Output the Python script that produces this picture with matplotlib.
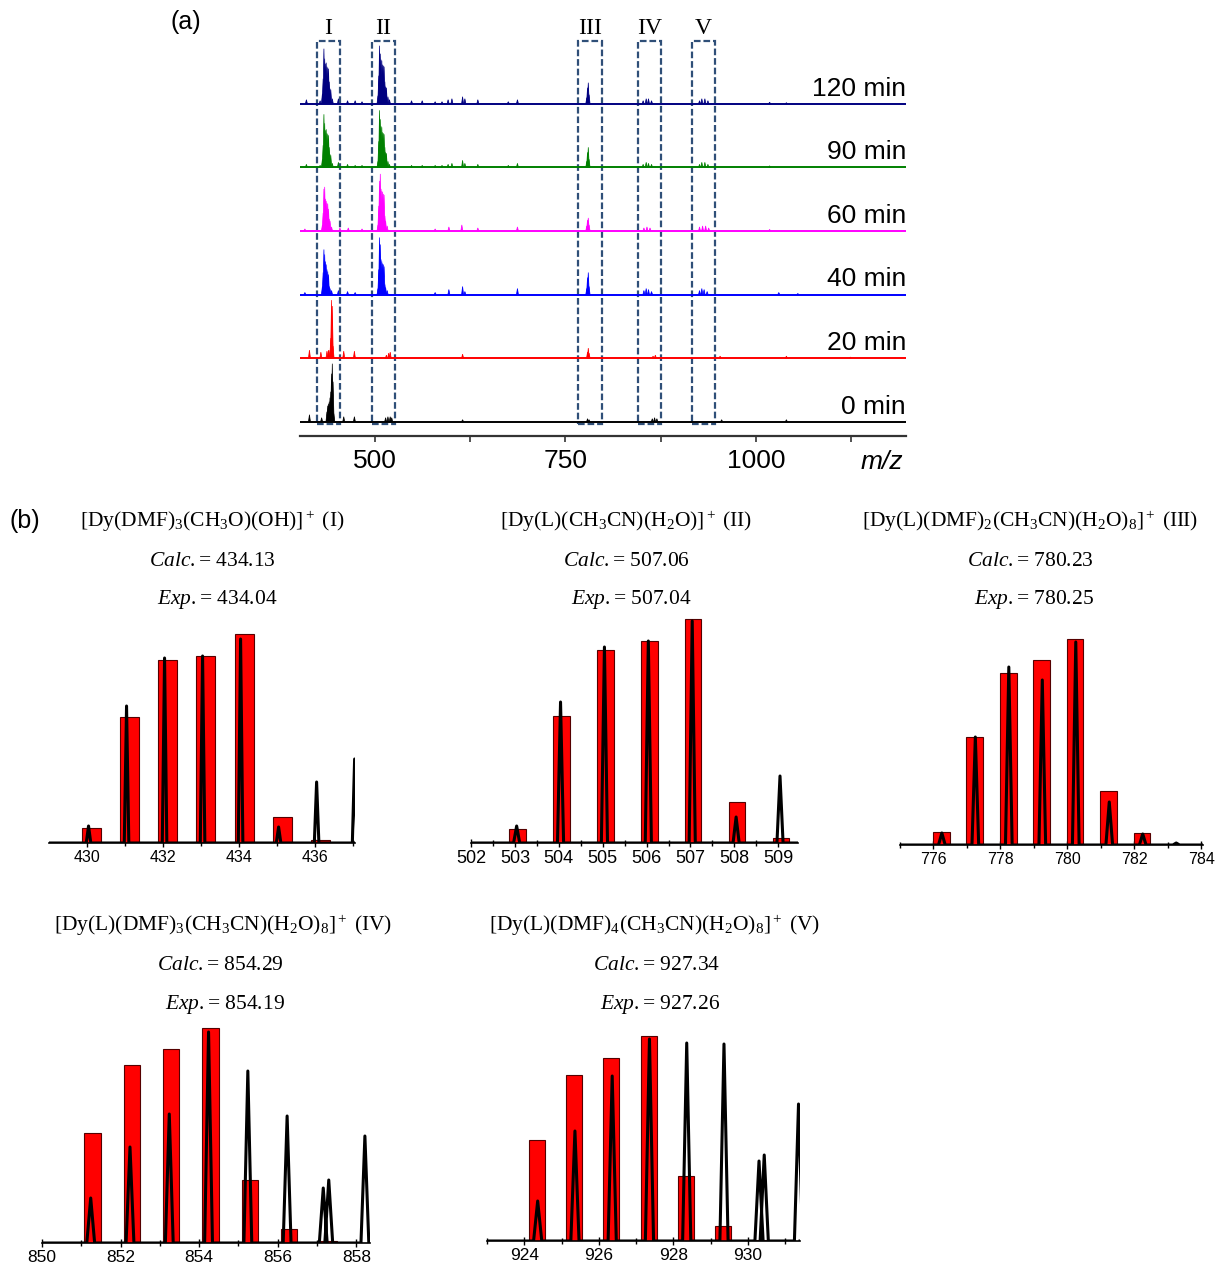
import matplotlib.pyplot as plt
from matplotlib.patches import Rectangle

plt.rcParams['font.family'] = 'Liberation Sans'
plt.rcParams['mathtext.fontset'] = 'custom'
plt.rcParams['mathtext.rm'] = 'Liberation Serif'
plt.rcParams['mathtext.it'] = 'Liberation Serif:italic'
plt.rcParams['mathtext.bf'] = 'Liberation Serif:bold'

# ---------------- (a) ESI-MS spectra over time: (m/z, intensity) sticks ----------------
times = ['0 min', '20 min', '40 min', '60 min', '90 min', '120 min']
colors = ['black', '#ff0000', '#0000ff', '#ff00ff', '#008000', '#000080']

spec_0 = [(414, 7), (430, 4), (437, 10), (438, 16), (439, 18), (440, 20), (441, 24), (442, 30),
          (443, 48), (444, 58), (445, 40), (446, 8), (459, 5), (473, 5), (514, 4), (517, 5),
          (520, 5), (522, 4), (615, 2), (779, 3), (781, 2), (864, 3), (867, 4), (870, 3),
          (955, 2), (1040, 2)]
spec_20 = [(414, 8), (429, 6), (437, 7), (439, 8), (441, 8), (442, 20), (443, 58), (444, 52),
           (445, 12), (459, 7), (473, 7), (515, 3), (518, 5), (520, 6), (615, 4), (779, 6),
           (780, 10), (781, 5), (865, 2), (868, 3), (953, 2), (1040, 2), (1124, 1)]
spec_40 = [(408, 2), (431, 8), (432, 22), (433, 45), (434, 40), (435, 33), (436, 30), (437, 25),
           (438, 23), (439, 20), (440, 8), (441, 6), (443, 4), (452, 4), (464, 3), (474, 2),
           (504, 6), (505, 25), (506, 57), (507, 50), (508, 35), (509, 33), (510, 31), (511, 30),
           (512, 28), (513, 10), (514, 7), (516, 4), (579, 2), (597, 5), (615, 8), (618, 3),
           (687, 6), (778, 6), (779, 17), (780, 22), (781, 8), (853, 4), (856, 6), (859, 5),
           (863, 3), (926, 4), (929, 6), (932, 5), (936, 3), (1030, 2), (1055, 1)]
spec_60 = [(408, 2), (431, 6), (432, 18), (433, 42), (434, 44), (435, 32), (436, 30), (437, 28),
           (438, 27), (439, 22), (440, 12), (441, 10), (443, 4), (454, 3), (465, 3), (483, 2),
           (504, 6), (505, 25), (506, 50), (507, 57), (508, 42), (509, 40), (510, 39), (511, 37),
           (512, 36), (513, 15), (514, 10), (516, 5), (579, 2), (597, 4), (614, 6), (635, 3),
           (687, 4), (778, 5), (779, 11), (780, 13), (781, 6), (853, 3), (857, 4), (861, 3),
           (926, 4), (930, 5), (934, 5), (938, 3), (1018, 1.5)]
spec_90 = [(410, 3), (428, 2), (431, 8), (432, 22), (433, 53), (434, 44), (435, 37), (436, 38),
           (437, 34), (438, 33), (439, 32), (440, 20), (441, 13), (442, 12), (444, 4), (452, 5),
           (464, 3), (474, 2), (483, 2), (504, 6), (505, 26), (506, 57), (507, 48), (508, 41),
           (509, 40), (510, 35), (511, 34), (512, 33), (513, 20), (514, 15), (515, 14), (517, 6),
           (519, 3), (548, 2), (562, 2), (579, 2), (588, 2), (596, 3), (601, 4), (615, 7),
           (618, 4), (635, 3), (675, 2), (687, 4), (778, 6), (779, 15), (780, 20), (781, 8),
           (852, 3), (856, 5), (859, 4), (863, 3), (926, 3), (929, 5), (933, 5), (937, 3),
           (1018, 1.5)]
spec_120 = [(410, 4), (428, 3), (431, 10), (432, 25), (433, 55), (434, 45), (435, 40), (436, 41),
            (437, 37), (438, 36), (439, 35), (440, 22), (441, 15), (442, 14), (444, 5), (452, 5),
            (464, 3), (474, 3), (483, 2), (504, 8), (505, 28), (506, 58), (507, 50), (508, 44),
            (509, 43), (510, 39), (511, 38), (512, 37), (513, 22), (514, 17), (515, 16), (517, 7),
            (519, 4), (548, 3), (562, 3), (579, 2), (588, 2), (596, 4), (601, 5), (615, 7),
            (618, 5), (635, 4), (675, 2), (687, 4), (778, 6), (779, 16), (780, 21), (781, 9),
            (852, 3), (856, 5), (859, 5), (863, 3), (926, 3), (929, 5), (933, 5), (937, 3),
            (1018, 1.5), (1040, 1)]
spectra = [spec_0, spec_20, spec_40, spec_60, spec_90, spec_120]

# boxed species windows (m/z)
box_labels = ['I', 'II', 'III', 'IV', 'V']
box_lo = [424, 496, 766.5, 845, 916]
box_hi = [454, 526.5, 798, 875.5, 946]

# ---------------- (b) isotope patterns: calculated (red bars) vs experimental (black) ----------------
calc_I_mz = [430.13, 431.13, 432.13, 433.13, 434.13, 435.13, 436.13]
calc_I = [15, 126, 183, 187, 209, 26, 3]
exp_I_mz = [430.04, 431.04, 432.04, 433.04, 434.04, 435.04, 436.04, 437.04]
exp_I = [17, 137, 185, 187, 204, 16, 61, 84]

calc_II_mz = [503.06, 504.06, 505.06, 506.06, 507.06, 508.06, 509.06]
calc_II = [14, 127, 193, 202, 224, 41, 5]
exp_II_mz = [503.04, 504.04, 505.04, 506.04, 507.04, 508.04, 509.04]
exp_II = [17, 141, 196, 202, 222, 26, 67]

calc_III_mz = [776.23, 777.23, 778.23, 779.23, 780.23, 781.23, 782.23]
calc_III = [13, 108, 172, 185, 206, 54, 12]
exp_III_mz = [776.25, 777.25, 778.25, 779.25, 780.25, 781.25, 782.25, 783.25]
exp_III = [12, 108, 178, 165, 203, 43, 11, 2]

calc_IV_mz = [851.29, 852.29, 853.29, 854.29, 855.29, 856.29, 857.29]
calc_IV = [110, 178, 194, 215, 63, 14, 2]
exp_IV_mz = [851.24, 852.24, 853.24, 854.24, 855.24, 856.24, 857.16, 857.3, 858.22]
exp_IV = [45, 96, 129, 211, 172, 127, 55, 63, 107]

calc_V_mz = [924.34, 925.34, 926.34, 927.34, 928.34, 929.34, 930.34]
calc_V = [101, 166, 183, 205, 65, 15, 1]
exp_V_mz = [924.36, 925.36, 926.36, 927.36, 928.36, 929.36, 930.3, 930.44, 931.36]
exp_V = [40, 110, 165, 202, 198, 197, 80, 86, 137]

titles = [r'[Dy(DMF)$_3$(CH$_3$O)(OH)]$^+$ (I)',
          r'[Dy(L)(CH$_3$CN)(H$_2$O)]$^+$ (II)',
          r'[Dy(L)(DMF)$_2$(CH$_3$CN)(H$_2$O)$_8$]$^+$ (III)',
          r'[Dy(L)(DMF)$_3$(CH$_3$CN)(H$_2$O)$_8$]$^+$ (IV)',
          r'[Dy(L)(DMF)$_4$(CH$_3$CN)(H$_2$O)$_8$]$^+$ (V)']
calc_vals = ['434.13', '507.06', '780.23', '854.29', '927.34']
exp_vals = ['434.04', '507.04', '780.25', '854.19', '927.26']

# ---------------- figure ----------------
W, H = 1215, 1265
fig = plt.figure(figsize=(W / 100, H / 100), dpi=100)


def axes_px(left, top, right, bottom):
    return fig.add_axes([left / W, 1 - bottom / H, (right - left) / W, (bottom - top) / H])


# ----- panel (a) -----
axa = axes_px(300, 10, 906, 436)
axa.set_xlim(401.6, 1197)
axa.set_ylim(0, 426)
base0, step = 14.3, 63.6
for i, (spec, col, lab) in enumerate(zip(spectra, colors, times)):
    b = base0 + i * step
    axa.axhline(b, color=col, lw=1.4)
    for mz, h in spec:
        axa.fill([mz - 1.3, mz, mz + 1.3], [b, b + h, b], color=col, lw=0.5)
    axa.text(1.0, b + 3, lab, transform=axa.get_yaxis_transform(),
             ha='right', va='bottom', fontsize=19)

for lab, lo, hi in zip(box_labels, box_lo, box_hi):
    axa.add_patch(Rectangle((lo, 12.5), hi - lo, 382.5, fill=False, ec='#2f4f78',
                            lw=1.6, ls=(0, (3, 1.3)), clip_on=False))
    axa.text((lo + hi) / 2, 408, lab, ha='center', va='center',
             family='Liberation Serif', fontsize=17)

for s in ['left', 'right', 'top']:
    axa.spines[s].set_visible(False)
axa.spines['bottom'].set_color('#333333')
axa.spines['bottom'].set_linewidth(1.6)
axa.set_yticks([])
axa.set_xticks([500, 750, 1000])
axa.set_xticks([625, 875, 1125], minor=True)
axa.tick_params(axis='x', which='both', direction='out', length=4, width=1.2,
                color='#333333', labelsize=19, pad=5)
axa.text(1165, -26, 'm/z', style='italic', ha='center', va='center', fontsize=19)

fig.text(186 / W, 1 - 22 / H, '(a)', ha='center', va='center', fontsize=18)
fig.text(25 / W, 1 - 521 / H, '(b)', ha='center', va='center', fontsize=18)


# ----- panel (b) -----
def isotope_panel(box, xlim, calc_mz, calc_h, bar_w, exp_mz, exp_h, peak_w,
                  major, minor, labelsize, title, calc, exp, tx, ty):
    ax = axes_px(*box)
    ax.set_xlim(*xlim)
    ax.set_ylim(0, box[3] - box[1])
    ax.bar(calc_mz, calc_h, width=bar_w, color='#ff0000', edgecolor='#550000', lw=0.8, zorder=2)
    xs, ys = [xlim[0]], [0]
    for c, h in zip(exp_mz, exp_h):
        xs += [c - peak_w, c, c + peak_w]
        ys += [0, h, 0]
    xs.append(xlim[1])
    ys.append(0)
    ax.plot(xs, ys, color='black', lw=2.2, solid_joinstyle='round', zorder=3)
    for s in ['left', 'right', 'top']:
        ax.spines[s].set_visible(False)
    ax.spines['bottom'].set_linewidth(1.2)
    ax.set_yticks([])
    ax.set_xticks(major)
    ax.set_xticks(minor, minor=True)
    ax.tick_params(axis='x', which='major', direction='inout', length=6, width=1,
                   labelsize=labelsize, pad=2)
    ax.tick_params(axis='x', which='minor', direction='inout', length=4, width=1)
    fig.text(tx[0] / W, 1 - ty[0] / H, title, ha='center', va='center',
             family='Liberation Serif', fontsize=15.5)
    fig.text(tx[1] / W, 1 - ty[1] / H, r'$\mathit{Calc.}$= ' + calc, ha='center', va='center',
             family='Liberation Serif', fontsize=15.5)
    fig.text(tx[2] / W, 1 - ty[2] / H, r'$\mathit{Exp.}$= ' + exp, ha='center', va='center',
             family='Liberation Serif', fontsize=15.5)
    return ax


isotope_panel((49, 628, 355, 843), (429.0, 437.05), calc_I_mz, calc_I, 0.5, exp_I_mz, exp_I, 0.06,
              [430, 432, 434, 436], [431, 433, 435, 437], 11.5,
              titles[0], calc_vals[0], exp_vals[0], (212, 212, 217), (521, 561, 600))
isotope_panel((471, 618, 798, 843), (502.0, 509.45), calc_II_mz, calc_II, 0.38, exp_II_mz, exp_II, 0.07,
              [502, 503, 504, 505, 506, 507, 508, 509],
              [502.5, 503.5, 504.5, 505.5, 506.5, 507.5, 508.5], 13,
              titles[1], calc_vals[1], exp_vals[1], (626, 626, 631), (521, 561, 600))
isotope_panel((900, 636, 1203, 845), (775.0, 784.05), calc_III_mz, calc_III, 0.5, exp_III_mz, exp_III, 0.1,
              [776, 778, 780, 782, 784], [775, 777, 779, 781, 783], 11.5,
              titles[2], calc_vals[2], exp_vals[2], (1030, 1030, 1034), (521, 561, 600))
isotope_panel((42, 1025, 370, 1243), (850.0, 858.35), calc_IV_mz, calc_IV, 0.42, exp_IV_mz, exp_IV, 0.1,
              [850, 852, 854, 856, 858], [851, 853, 855, 857], 12.5,
              titles[3], calc_vals[3], exp_vals[3], (223, 220, 225), (925, 965, 1004))
isotope_panel((487, 1034, 800, 1241), (923.0, 931.4), calc_V_mz, calc_V, 0.43, exp_V_mz, exp_V, 0.11,
              [924, 926, 928, 930], [923, 925, 927, 929, 931], 12.5,
              titles[4], calc_vals[4], exp_vals[4], (655, 657, 660), (925, 965, 1004))

fig.savefig('out.png', dpi=100)
